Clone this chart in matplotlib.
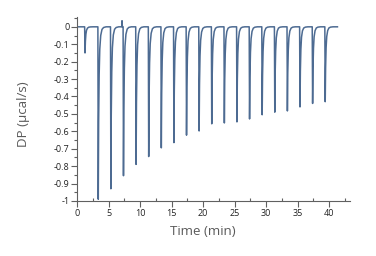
import numpy as np
import matplotlib
matplotlib.use("Agg")
import matplotlib.pyplot as plt
from matplotlib.ticker import MultipleLocator, FuncFormatter

# injection times (min) and peak depths (ucal/s)
inj_times = [1.2, 3.3, 5.3, 7.3, 9.3, 11.3, 13.3, 15.3, 17.3, 19.3,
             21.3, 23.3, 25.3, 27.3, 29.3, 31.3, 33.3, 35.3, 37.3, 39.3]
peak_depth = [-0.15, -0.99, -0.93, -0.855, -0.79, -0.745, -0.695, -0.665, -0.622, -0.598,
              -0.557, -0.552, -0.546, -0.529, -0.505, -0.49, -0.483, -0.46, -0.44, -0.43]

# normalised shape of one injection peak (offset in min, fraction of depth)
peak_dt = [0.0, 0.06, 0.12, 0.2, 0.3, 0.45, 0.65, 0.9, 1.3]
peak_frac = [0.0, 1.0, 0.55, 0.28, 0.13, 0.05, 0.015, 0.004, 0.0]

# small upward blip before the 4th injection
blip_t = [7.08, 7.13, 7.18]
blip_v = [0.0, 0.035, 0.0]

t_start, t_end = 0.2, 41.3

t = [t_start]
v = [0.0]
for t0, d in zip(inj_times, peak_depth):
    if abs(t0 - 7.3) < 0.01:
        t += blip_t
        v += blip_v
    for dt, f in zip(peak_dt, peak_frac):
        t.append(t0 + dt)
        v.append(d * f)
t.append(t_end)
v.append(0.0)

plt.rcParams['font.family'] = ['Open Sans', 'DejaVu Sans']
plt.rcParams['axes.unicode_minus'] = False

grey = '#5a5a5a'
fig = plt.figure(figsize=(3.76, 2.56), dpi=100)
ax = fig.add_axes([0.205, 0.215, 0.726, 0.719])
ax.plot(t, v, color='#4d6b92', lw=1.1)

ax.set_xlim(0, 43.3)
ax.set_ylim(-1.0, 0.057)
ax.xaxis.set_major_locator(MultipleLocator(5))
ax.xaxis.set_minor_locator(MultipleLocator(2.5))
ax.yaxis.set_major_locator(MultipleLocator(0.1))
ax.yaxis.set_minor_locator(MultipleLocator(0.05))
ax.yaxis.set_major_formatter(FuncFormatter(lambda y, p: '%g' % round(y, 2)))

for s in ['top', 'right']:
    ax.spines[s].set_visible(False)
for s in ['left', 'bottom']:
    ax.spines[s].set_color('#606060')
    ax.spines[s].set_linewidth(0.8)

ax.tick_params(which='major', length=4, width=0.8, color='#606060', labelsize=6.5, labelcolor='#222222', pad=1.5)
ax.tick_params(which='minor', length=2.5, width=0.8, color='#606060')
ax.tick_params(axis='x', which='minor', direction='in')

ax.set_xlabel('Time (min)', fontsize=9.6, color=grey)
ax.set_ylabel('DP (µcal/s)', fontsize=9.6, color=grey)
ax.xaxis.set_label_coords(0.4615, -0.13)
ax.yaxis.set_label_coords(-0.172, 0.473)

fig.savefig('out.png', dpi=100, facecolor='white')
